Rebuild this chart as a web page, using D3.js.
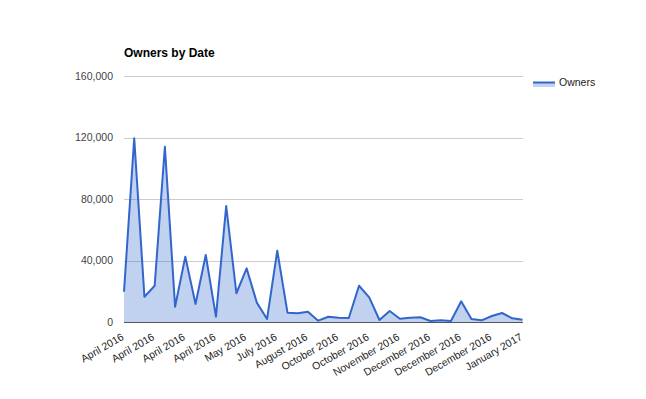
<!DOCTYPE html>
<html>
<head>
<meta charset="utf-8">
<script src="https://cdn.jsdelivr.net/npm/d3@7"></script>
<style>
  html, body { margin: 0; padding: 0; background: #fff; }
  svg { display: block; font-family: Arial, "Liberation Sans", sans-serif; }
</style>
</head>
<body>
<svg id="chart" width="646" height="399"></svg>
<script>
const title = "Owners by Date";
const seriesName = "Owners";
const categories = [
  "April 2016","April 2016","April 2016","April 2016","April 2016","April 2016",
  "April 2016","April 2016","April 2016","April 2016","April 2016","April 2016",
  "May 2016","May 2016","June 2016","July 2016","July 2016","July 2016",
  "August 2016","August 2016","September 2016","October 2016","October 2016","October 2016",
  "October 2016","October 2016","October 2016","November 2016","November 2016","November 2016",
  "December 2016","December 2016","December 2016","December 2016","December 2016","December 2016",
  "December 2016","December 2016","December 2016","January 2017"
];
const owners = [
  19700, 119500, 16450, 23600, 114000, 9950, 42500, 11700, 43600, 3450,
  75450, 18700, 34900, 12600, 1950, 46400, 6050, 5650, 6700, 850,
  3450, 2800, 2600, 23600, 16050, 1300, 7150, 2150, 2800, 3050,
  650, 1100, 650, 13450, 1950, 1100, 3900, 5850, 2400, 1500
];
const yTicks = [0, 40000, 80000, 120000, 160000];
const labelEvery = 3;

(function () {
const svg = d3.select("#chart");
const pLeft = 124, pRight = 522.5, pTop = 76, pBottom = 322;
const x = d3.scaleLinear().domain([0, owners.length - 1]).range([pLeft, pRight]);
const y = d3.scaleLinear().domain([0, 160000]).range([pBottom, pTop]);
const blue = "#3366cc";

// title
svg.append("text").attr("x", pLeft).attr("y", 57)
  .attr("font-size", 12).attr("font-weight", "bold").attr("fill", "#000")
  .text(title);

// gridlines + y labels
const yAxis = d3.axisLeft(y).tickValues(yTicks).tickSize(-(pRight - pLeft)).tickFormat(d3.format(","));
const ga = svg.append("g").attr("transform", `translate(${pLeft},0)`).call(yAxis);
ga.select(".domain").remove();
ga.selectAll(".tick line").attr("stroke", "#cccccc").attr("stroke-width", 1).attr("shape-rendering", "crispEdges");
ga.selectAll(".tick text").attr("x", -11).attr("fill", "#444").attr("font-size", 10.5)
  .attr("font-family", "Arial, 'Liberation Sans', sans-serif");

// area + line
const idx = d3.range(owners.length);
const area = d3.area().x(i => x(i)).y0(y(0)).y1(i => y(owners[i]));
const line = d3.line().x(i => x(i)).y(i => y(owners[i]));
svg.append("path").datum(idx).attr("d", area).attr("fill", blue).attr("fill-opacity", 0.3);
svg.append("path").datum(idx).attr("d", line).attr("fill", "none")
  .attr("stroke", blue).attr("stroke-width", 2).attr("stroke-linejoin", "round");

// baseline
svg.append("line").attr("x1", pLeft).attr("x2", pRight).attr("y1", y(0)).attr("y2", y(0))
  .attr("stroke", "#555").attr("stroke-width", 1).attr("shape-rendering", "crispEdges");

// x labels
const xTickIdx = idx.filter(i => i % labelEvery === 0);
const xAxis = d3.axisBottom(x).tickValues(xTickIdx).tickSize(0).tickFormat(i => categories[i]);
const gx = svg.append("g").attr("transform", `translate(0,${pBottom})`).call(xAxis);
gx.select(".domain").remove();
gx.selectAll(".tick text")
  .attr("font-size", 10.5).attr("fill", "#222")
  .attr("font-family", "Arial, 'Liberation Sans', sans-serif")
  .attr("text-anchor", "end")
  .attr("dy", null).attr("y", null)
  .attr("transform", "translate(0,17) rotate(-30)");

// legend
const lg = svg.append("g");
lg.append("rect").attr("x", 533).attr("y", 82).attr("width", 22).attr("height", 5)
  .attr("fill", blue).attr("fill-opacity", 0.3);
lg.append("line").attr("x1", 533).attr("x2", 555).attr("y1", 82.5).attr("y2", 82.5)
  .attr("stroke", blue).attr("stroke-width", 2);
lg.append("text").attr("x", 559).attr("y", 86).attr("font-size", 10.5).attr("fill", "#222").text(seriesName);
})();
</script>
</body>
</html>
